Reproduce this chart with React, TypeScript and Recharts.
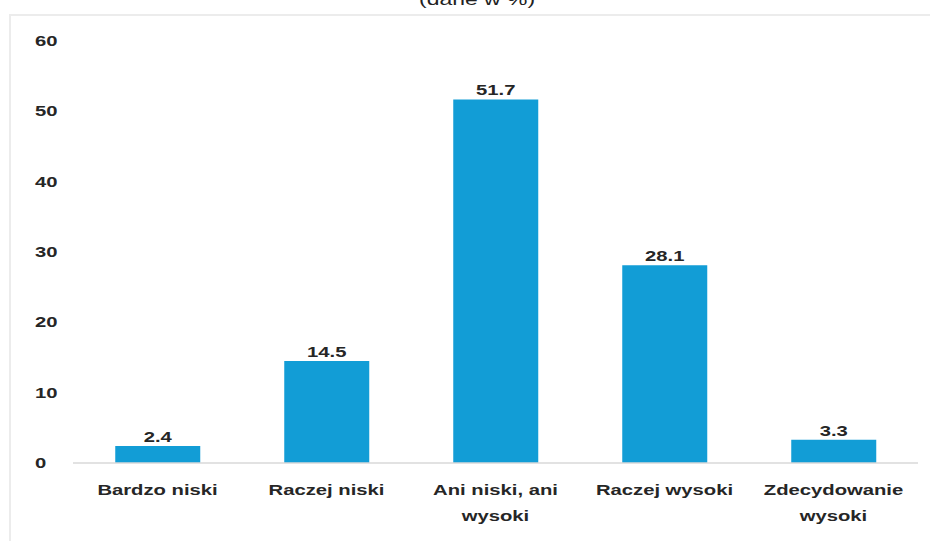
import { Bar, BarChart, LabelList, XAxis, YAxis } from "recharts";

const categories = [
  "Bardzo niski",
  "Raczej niski",
  "Ani niski, ani wysoki",
  "Raczej wysoki",
  "Zdecydowanie wysoki",
];
const values = [2.4, 14.5, 51.7, 28.1, 3.3];
const yTicks = [0, 10, 20, 30, 40, 50, 60];
const title = "(dane w %)";

const data = categories.map((name, i) => ({ name, value: values[i] }));

const FONT = '"Liberation Sans", Arial, sans-serif';
const STRETCH = 1.35;
const TEXT = "#262626";

// wrap a label into lines of at most `max` chars
const wrap = (s: string, max = 14) => {
  const lines: string[] = [];
  let cur = "";
  for (const w of s.split(" ")) {
    const next = cur ? cur + " " + w : w;
    if (next.length > max && cur) {
      lines.push(cur);
      cur = w;
    } else cur = next;
  }
  if (cur) lines.push(cur);
  return lines;
};

const WideText = ({ x, y, children, weight = "bold", size = 15 }: any) => (
  <text
    transform={`translate(${x},${y}) scale(${STRETCH},1)`}
    textAnchor="middle"
    fontFamily={FONT}
    fontWeight={weight}
    fontSize={size}
    fill={TEXT}
  >
    {children}
  </text>
);

const XTick = ({ x, y, payload }: any) => {
  const lines = wrap(String(payload.value));
  return (
    <g>
      {lines.map((l, i) => (
        <WideText key={i} x={x} y={y + 32 + i * 26}>
          {l}
        </WideText>
      ))}
    </g>
  );
};

const YTick = ({ y, payload }: any) => (
  <text
    transform={`translate(35,${y + 5}) scale(${STRETCH},1)`}
    textAnchor="start"
    fontFamily={FONT}
    fontWeight="bold"
    fontSize={15}
    fill={TEXT}
  >
    {payload.value}
  </text>
);

const ValueLabel = ({ x, y, width, value }: any) => (
  <WideText x={x + width / 2} y={y - 4}>
    {value}
  </WideText>
);

export default function App() {
  return (
    <div style={{ position: "absolute", left: 0, top: 0, width: 930, height: 541, background: "#fff", overflow: "hidden" }}>
      <div
        style={{
          position: "absolute",
          left: 9,
          top: 14,
          width: 930,
          height: 541,
          borderTop: "2px solid #ececec",
          borderLeft: "2px solid #ececec",
        }}
      />
      <svg width={930} height={30} style={{ position: "absolute", left: 0, top: 0 }}>
        <text
          transform={`translate(477,5) scale(${STRETCH},1)`}
          textAnchor="middle"
          fontFamily={FONT}
          fontSize={17}
          fill="#222"
        >
          {title}
        </text>
      </svg>
      <div style={{ position: "absolute", left: 0, top: 0 }}>
        <BarChart
          width={930}
          height={541}
          data={data}
          margin={{ top: 41, right: 12, left: 0, bottom: 0 }}
          barCategoryGap="25%"
        >
          <XAxis
            dataKey="name"
            height={78}
            axisLine={{ stroke: "#d9d9d9", strokeWidth: 1.5 }}
            tickLine={false}
            tickSize={0}
            tickMargin={0}
            interval={0}
            tick={<XTick />}
          />
          <YAxis
            width={73}
            domain={[0, 60]}
            ticks={yTicks}
            interval={0}
            axisLine={false}
            tickLine={false}
            tick={<YTick />}
          />
          <Bar dataKey="value" fill="#129dd6" isAnimationActive={false}>
            <LabelList dataKey="value" content={<ValueLabel />} />
          </Bar>
        </BarChart>
      </div>
    </div>
  );
}
